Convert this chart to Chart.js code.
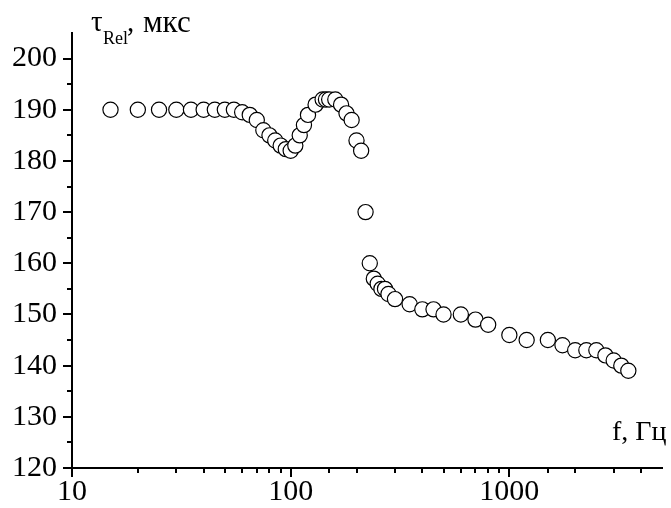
<!DOCTYPE html>
<html>
<head>
<meta charset="utf-8">
<script src="https://cdn.jsdelivr.net/npm/chart.js@4/dist/chart.umd.min.js"></script>
<style>
  html, body { margin: 0; padding: 0; background: #fff; overflow: hidden; }
  #wrap { position: relative; width: 671px; height: 508px; overflow: hidden; }
  canvas { position: absolute; left: 0; top: 0; }
  .lbl { position: absolute; font-family: "Liberation Serif", "Times New Roman", serif; color: #000; white-space: nowrap; line-height: 1; }
</style>
</head>
<body>
<div id="wrap">
  <canvas id="c" width="671" height="508"></canvas>
  <div class="lbl" style="left:91px; top:7px; font-size:29px;">τ</div>
  <div class="lbl" style="left:103px; top:29px; font-size:18px;">Rel</div>
  <div class="lbl" style="left:127px; top:7px; font-size:29px;">,</div>
  <div class="lbl" style="left:143px; top:6px; font-size:31px;">мкс</div>
  <div class="lbl" id="xtitle" style="left:612px; top:417px; font-size:28px;">f, Гц</div>
</div>
<script>
// ---- data ----
const freqHz = [15, 20, 25, 30, 35, 40, 45, 50, 55, 60, 65, 70, 75, 80, 85, 90, 95, 100,
  105, 110, 115, 120, 130, 140, 145, 150, 160, 170, 180, 190, 200, 210, 220,
  230, 240, 250, 260, 270, 280, 300, 350, 400, 450, 500, 600, 700, 800,
  1000, 1200, 1500, 1750, 2000, 2250, 2500, 2750, 3000, 3250, 3500];
const tauRel = [190, 190, 190, 190, 190, 190, 190, 190, 190, 189.5, 189, 188, 186, 185, 184, 183, 182.3, 182,
  183, 185, 187, 189, 191, 192, 192, 192, 192, 191, 189.3, 188, 184, 182, 170,
  160, 157, 156, 155, 155, 154, 153, 152, 151, 151, 150, 150, 149, 148,
  146, 145, 145, 144, 143, 143, 143, 142, 141, 140, 139];
const xTickLabels = [10, 100, 1000];
const yTickLabels = [120, 130, 140, 150, 160, 170, 180, 190, 200];

const points = freqHz.map((f, i) => ({ x: f, y: tauRel[i] }));

const FONT = { family: "'Liberation Serif', 'Times New Roman', serif", size: 30 };

const tickPlugin = {
  id: 'outerTicks',
  afterDraw(chart) {
    const ctx = chart.ctx;
    const xs = chart.scales.x, ys = chart.scales.y;
    const area = chart.chartArea;
    ctx.save();
    ctx.strokeStyle = '#000';
    ctx.lineWidth = 2;
    ys.ticks.forEach(t => {
      if (t.value >= ys.max) return;
      const p = Math.round(ys.getPixelForValue(t.value));
      const len = (t.value % 10 === 0) ? 9 : 5;
      ctx.beginPath();
      ctx.moveTo(area.left, p);
      ctx.lineTo(area.left - len, p);
      ctx.stroke();
    });
    xs.ticks.forEach(t => {
      if (t.value >= xs.max) return;
      const p = Math.round(xs.getPixelForValue(t.value));
      const major = Math.abs(Math.log10(t.value) - Math.round(Math.log10(t.value))) < 1e-9;
      const len = major ? 9 : 5;
      ctx.beginPath();
      ctx.moveTo(p, area.bottom);
      ctx.lineTo(p, area.bottom + len);
      ctx.stroke();
    });
    ctx.restore();
  }
};

new Chart(document.getElementById('c'), {
  type: 'scatter',
  data: {
    datasets: [{
      data: points,
      pointStyle: 'circle',
      pointRadius: 7.6,
      pointHoverRadius: 7.6,
      borderWidth: 1.2,
      borderColor: '#000',
      backgroundColor: '#fff'
    }]
  },
  plugins: [tickPlugin],
  options: {
    responsive: false,
    animation: false,
    events: [],
    layout: { padding: { left: 0, right: 4, top: 31, bottom: 0 } },
    plugins: { legend: { display: false }, tooltip: { enabled: false } },
    scales: {
      x: {
        type: 'logarithmic',
        min: 10,
        max: 5000,
        afterFit: s => { s.height = 40; },
        border: { display: true, color: '#000', width: 2 },
        grid: { display: true, drawOnChartArea: false, drawTicks: false, color: 'rgba(0,0,0,0)' },
        ticks: {
          autoSkip: false,
          maxRotation: 0,
          padding: 6,
          color: '#000',
          font: FONT,
          callback: v => xTickLabels.includes(v) ? String(v) : ''
        }
      },
      y: {
        type: 'linear',
        min: 120,
        max: 205,
        afterFit: s => { s.width = 72; },
        border: { display: true, color: '#000', width: 2 },
        grid: { display: true, drawOnChartArea: false, drawTicks: false, color: 'rgba(0,0,0,0)' },
        ticks: {
          stepSize: 5,
          autoSkip: false,
          padding: 15,
          color: '#000',
          font: FONT,
          callback: v => yTickLabels.includes(v) ? String(v) : ''
        }
      }
    }
  }
});
</script>
</body>
</html>
